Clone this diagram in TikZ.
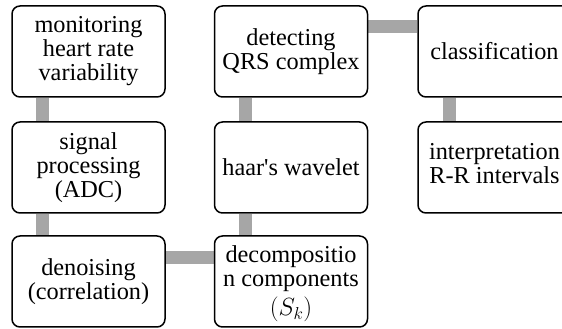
\documentclass[tikz,border=0pt]{standalone}
\usepackage{fontspec}
\setmainfont{Liberation Serif}
\usetikzlibrary{backgrounds}
\begin{document}
\begin{tikzpicture}[x=1pt,y=1pt,
  txt/.style={align=center, inner sep=0pt, font=\fontsize{24.3}{24}\selectfont},
  box/.style={txt, draw=black, line width=1.5pt, rounded corners=8pt, fill=white,
    minimum width=153pt, minimum height=91pt},
  conn/.style={draw={rgb,255:red,166;green,166;blue,166}, line width=13pt}]
\clip (0,0) rectangle (562,329);
\useasboundingbox (0,0) rectangle (562,329);
% nodes
\node[box] (mon) at (88.5,277.5) {monitoring\\heart rate\\variability};
\node[box] (sig) at (88.5,161.5) {signal\\processing\\(ADC)};
\node[box] (den) at (88.5,47.5) {denoising\\(correlation)};
\node[box] (qrs) at (291,277.5) {detecting\\QRS complex};
\node[box] (haar) at (291,161.5) {haar\textquotesingle s wavelet};
\node[box] (dec) at (291,47.5) {};
\node[txt] (dectxt) at ([yshift=-2pt]dec.center) {decompositio\\n components\\[5pt]$(S_k)$};
\node[box] (cls) at (494.5,277.5) {classification};
\node[box] (int) at (494.5,161.5) {};
\node[txt] (inttxt) at ([yshift=4pt]int.center) {interpretation\\R-R intervals};
% connectors (behind the boxes)
\begin{scope}[on background layer]
\draw[conn] ([xshift=31pt]mon.south west) -- ([xshift=31pt]sig.north west);
\draw[conn] ([xshift=31pt]sig.south west) -- ([xshift=31pt]den.north west);
\draw[conn] ([yshift=-22pt]den.north east) -- ([yshift=-22pt]dec.north west);
\draw[conn] ([xshift=32pt]dec.north west) -- ([xshift=32pt]haar.south west);
\draw[conn] ([xshift=32pt]haar.north west) -- ([xshift=32pt]qrs.south west);
\draw[conn] ([yshift=-21pt]qrs.north east) -- ([yshift=-21pt]cls.north west);
\draw[conn] ([xshift=32pt]cls.south west) -- ([xshift=32pt]int.north west);
\end{scope}
\end{tikzpicture}
\end{document}
